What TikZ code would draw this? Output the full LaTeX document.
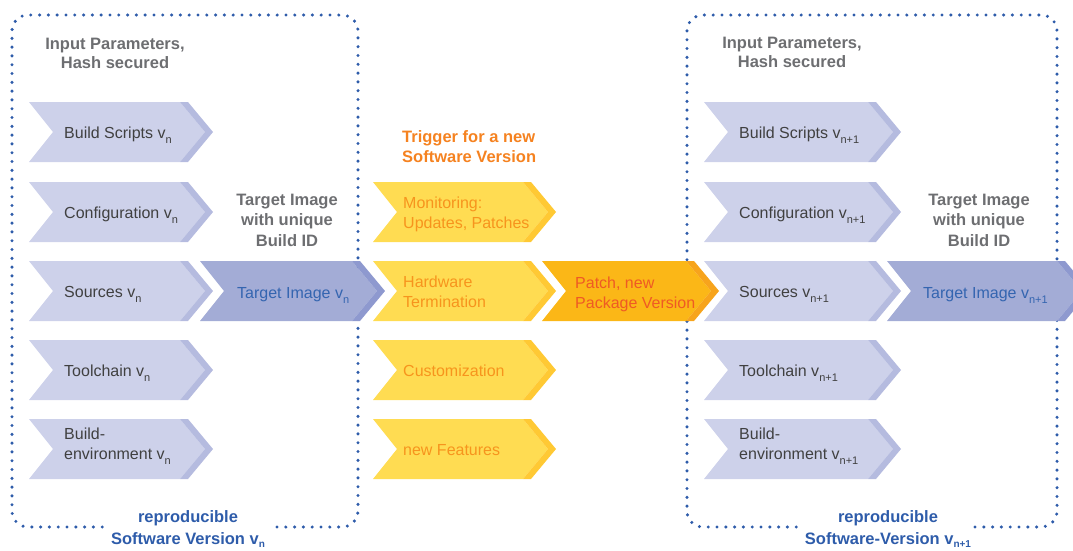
\documentclass[tikz,border=0pt]{standalone}
\usepackage{fontspec}
\setmainfont{Liberation Sans}
\definecolor{lav}{HTML}{CDD1EA}
\definecolor{lavdark}{HTML}{B5BBDF}
\definecolor{tgt}{HTML}{A3ACD6}
\definecolor{tgtdark}{HTML}{8E99CF}
\definecolor{yel}{HTML}{FFDC52}
\definecolor{yeldark}{HTML}{FFC934}
\definecolor{org}{HTML}{FBB717}
\definecolor{orgdark}{HTML}{F7A41C}
\definecolor{txtgrey}{HTML}{404040}
\definecolor{headgrey}{HTML}{6D6E71}
\definecolor{dotblue}{HTML}{2E5CAA}
\definecolor{tgtblue}{HTML}{3465B0}
\definecolor{yeltxt}{HTML}{F7941D}
\definecolor{patchtxt}{HTML}{EF5A24}
\definecolor{trigtxt}{HTML}{F58220}
\newcommand\subn[1]{\raisebox{-5pt}{\fontsize{11}{11}\selectfont #1}}
\newcommand\subf[1]{\raisebox{-3pt}{\fontsize{10}{10}\selectfont #1}}
% #1 x1, #2 x2 (outer top right), #3 yc, #4 fill, #5 strip, #6 name, #7 text offset, #8 text style, #9 text
\newcommand\chevron[9]{%
  \fill[#4] (#1,#3-30) -- (#2-8,#3-30) -- (#2+17,#3) -- (#2-8,#3+30) -- (#1,#3+30) -- (#1+24,#3) -- cycle;
  \fill[#5] (#2-8,#3-30) -- (#2,#3-30) -- (#2+25,#3) -- (#2,#3+30) -- (#2-8,#3+30) -- (#2+17,#3) -- cycle;
  \node[#8] (#6) at (#1+#7,#3) {#9};
}
\tikzset{
  dotborder/.style={draw=dotblue, line width=3.4pt, line cap=round, dash pattern=on 0pt off 8.8pt, rounded corners=16pt},
  reg/.style={inner sep=0pt, font=\fontsize{16}{20}\selectfont, align=left},
  graytxt/.style={reg, text=txtgrey},
  single/.style={anchor=base west, yshift=-6pt},
  double/.style={anchor=base west, yshift=-16pt},
  head/.style={inner sep=0pt, font=\bfseries\fontsize{16.5}{18.5}\selectfont, text=headgrey, align=center},
  headb/.style={inner sep=0pt, font=\bfseries\fontsize{16.5}{20.5}\selectfont, text=headgrey, align=center},
  foot/.style={inner sep=0pt, font=\bfseries\fontsize{16.5}{22}\selectfont, text=dotblue, align=center, anchor=base},
}
\begin{document}
\begin{tikzpicture}[x=1pt,y=-1pt]
\useasboundingbox (0,0) rectangle (1073,550);
\clip (0,0) rectangle (1073,550);
% borders
\draw[dotborder] (277,527) -- (358,527) -- (358,15) -- (12,15) -- (12,527) -- (103,527);
\draw[dotborder] (975,527) -- (1057,527) -- (1057,15) -- (687,15) -- (687,527) -- (800,527);
% headers
\node[head, anchor=base] (inL) at (115,68) {Input Parameters,\\Hash secured};
\node[head, anchor=base] (inR) at (792,67) {Input Parameters,\\Hash secured};
\node[headb, anchor=base] (tiL) at (287,246) {Target Image\\with unique\\Build ID};
\node[headb, anchor=base] (tiR) at (979,246) {Target Image\\with unique\\Build ID};
\node[head, anchor=base west, text=trigtxt, align=left, font=\bfseries\fontsize{16.5}{20}\selectfont] (trig) at (402,162) {Trigger for a new\\Software Version};
% left column
\chevron{29}{188}{132}{lav}{lavdark}{bsL}{35}{graytxt,single}{Build Scripts v\subn{n}}
\chevron{29}{188}{212}{lav}{lavdark}{cfL}{35}{graytxt,single}{Configuration v\subn{n}}
\chevron{29}{188}{291}{lav}{lavdark}{srL}{35}{graytxt,single}{Sources v\subn{n}}
\chevron{29}{188}{370}{lav}{lavdark}{tcL}{35}{graytxt,single}{Toolchain v\subn{n}}
\chevron{29}{188}{449}{lav}{lavdark}{beL}{35}{graytxt,anchor=base west,yshift=-10pt}{Build-\\environment v\subn{n}}
% target n
\chevron{200}{360}{291}{tgt}{tgtdark}{tgL}{37}{reg,text=tgtblue,single,yshift=-1pt}{Target Image v\subn{n}}
% triggers
\chevron{373}{531}{212}{yel}{yeldark}{mon}{30}{reg,text=yeltxt,double}{Monitoring:\\Updates, Patches}
\chevron{373}{531}{291}{yel}{yeldark}{hw}{30}{reg,text=yeltxt,double}{Hardware\\Termination}
\chevron{373}{531}{370}{yel}{yeldark}{cu}{30}{reg,text=yeltxt,single}{Customization}
\chevron{373}{531}{449}{yel}{yeldark}{nf}{30}{reg,text=yeltxt,single}{new Features}
% patch
\chevron{542}{694}{291}{org}{orgdark}{pa}{33}{reg,text=patchtxt,double,yshift=-1pt}{Patch, new\\Package Version}
% right column
\chevron{704}{876}{132}{lav}{lavdark}{bsR}{35}{graytxt,single}{Build Scripts v\subn{n+1}}
\chevron{704}{876}{212}{lav}{lavdark}{cfR}{35}{graytxt,single}{Configuration v\subn{n+1}}
\chevron{704}{876}{291}{lav}{lavdark}{srR}{35}{graytxt,single}{Sources v\subn{n+1}}
\chevron{704}{876}{370}{lav}{lavdark}{tcR}{35}{graytxt,single}{Toolchain v\subn{n+1}}
\chevron{704}{876}{449}{lav}{lavdark}{beR}{35}{graytxt,anchor=base west,yshift=-10pt}{Build-\\environment v\subn{n+1}}
% target n+1
\chevron{887}{1065}{291}{tgt}{tgtdark}{tgR}{36}{reg,text=tgtblue,single,yshift=-1pt}{Target Image v\subn{n+1}}
% footers
\node[foot] (ftL) at (188,544) {reproducible\\Software Version v\subf{n}};
\node[foot] (ftR) at (888,544) {reproducible\\Software-Version v\subf{n+1}};
\end{tikzpicture}
\end{document}
